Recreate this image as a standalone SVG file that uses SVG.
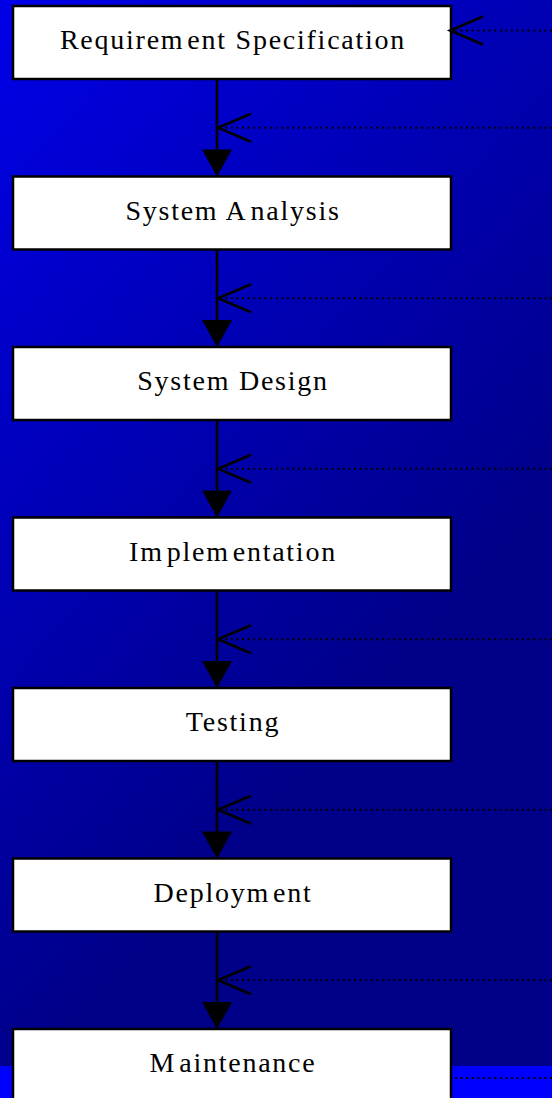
<svg xmlns="http://www.w3.org/2000/svg" width="552" height="1098" viewBox="0 0 552 1098">
  <defs>
    <linearGradient id="bg" gradientUnits="userSpaceOnUse" x1="0" y1="0" x2="552" y2="500">
      <stop offset="0" stop-color="#0000E8"/>
      <stop offset="1" stop-color="#000088"/>
    </linearGradient>
    <!-- solid arrowhead at the end of each flow line -->
    <marker id="tri" markerUnits="userSpaceOnUse" viewBox="0 0 28 30" markerWidth="28" markerHeight="30" refX="27" refY="15" orient="auto" overflow="visible">
      <path d="M0,0 L27,15 L0,30 Z" fill="#000"/>
    </marker>
    <!-- open chevron at the end of each feedback line -->
    <marker id="chev" markerUnits="userSpaceOnUse" viewBox="0 0 34 30" markerWidth="34" markerHeight="30" refX="33" refY="14" orient="auto" overflow="visible">
      <path d="M0,0 L33,14 L0,28" fill="none" stroke="#000" stroke-width="2.5" stroke-dasharray="none"/>
    </marker>
    <style>
      .box { fill: #fff; stroke: #000; stroke-width: 2.5; }
      .label { font-family: "Liberation Serif", "Times New Roman", serif; font-size: 28px; letter-spacing: 1.75px; fill: #000; text-anchor: middle; }
      .flow { stroke: #000; stroke-width: 2.6; fill: none; marker-end: url(#tri); }
      .back { stroke: #000; stroke-width: 2; stroke-dasharray: 2 3.6; fill: none; marker-end: url(#chev); }
      .plain { stroke: #000; stroke-width: 2; stroke-dasharray: 2 3.6; fill: none; }
    </style>
  </defs>

  <!-- backdrop -->
  <rect x="0" y="0" width="552" height="1098" fill="url(#bg)"/>
  <rect x="0" y="1066" width="552" height="32" fill="#0000FF"/>

  <!-- process steps -->
  <g id="node-requirement">
    <rect class="box" x="13" y="6" width="438" height="73"/>
    <text class="label" x="233" y="49">Requirem<tspan dx="3">ent Specification</tspan></text>
  </g>
  <g id="node-analysis">
    <rect class="box" x="13" y="176.5" width="438" height="73"/>
    <text class="label" x="233" y="219.5">System A<tspan dx="3">nalysis</tspan></text>
  </g>
  <g id="node-design">
    <rect class="box" x="13" y="347" width="438" height="73"/>
    <text class="label" x="233" y="390">System Design</text>
  </g>
  <g id="node-implementation">
    <rect class="box" x="13" y="517.5" width="438" height="73"/>
    <text class="label" x="233" y="560.5">Im<tspan dx="3">plem</tspan><tspan dx="3">entation</tspan></text>
  </g>
  <g id="node-testing">
    <rect class="box" x="13" y="688" width="438" height="73"/>
    <text class="label" x="233" y="731">Testing</text>
  </g>
  <g id="node-deployment">
    <rect class="box" x="13" y="858.5" width="438" height="73"/>
    <text class="label" x="233" y="901.5">Deploym<tspan dx="3">ent</tspan></text>
  </g>
  <g id="node-maintenance">
    <rect class="box" x="13" y="1029" width="438" height="73"/>
    <text class="label" x="233" y="1072">M<tspan dx="3">aintenance</tspan></text>
  </g>

  <!-- connectors -->
  <g id="connectors">
    <!-- downward flow between steps -->
    <line class="flow" x1="217" y1="79" x2="217" y2="176.5"/>
    <line class="flow" x1="217" y1="249.5" x2="217" y2="347"/>
    <line class="flow" x1="217" y1="420" x2="217" y2="517.5"/>
    <line class="flow" x1="217" y1="590.5" x2="217" y2="688"/>
    <line class="flow" x1="217" y1="761" x2="217" y2="858.5"/>
    <line class="flow" x1="217" y1="931.5" x2="217" y2="1029"/>

    <!-- feedback lines coming in from the right -->
    <line class="back" x1="552" y1="30.5" x2="450" y2="30.5"/>
    <line class="back" x1="552" y1="127.75" x2="218" y2="127.75"/>
    <line class="back" x1="552" y1="298.25" x2="218" y2="298.25"/>
    <line class="back" x1="552" y1="468.75" x2="218" y2="468.75"/>
    <line class="back" x1="552" y1="639.25" x2="218" y2="639.25"/>
    <line class="back" x1="552" y1="809.75" x2="218" y2="809.75"/>
    <line class="back" x1="552" y1="980.25" x2="218" y2="980.25"/>
    <line class="plain" x1="455" y1="1078" x2="552" y2="1078"/>
  </g>
</svg>
